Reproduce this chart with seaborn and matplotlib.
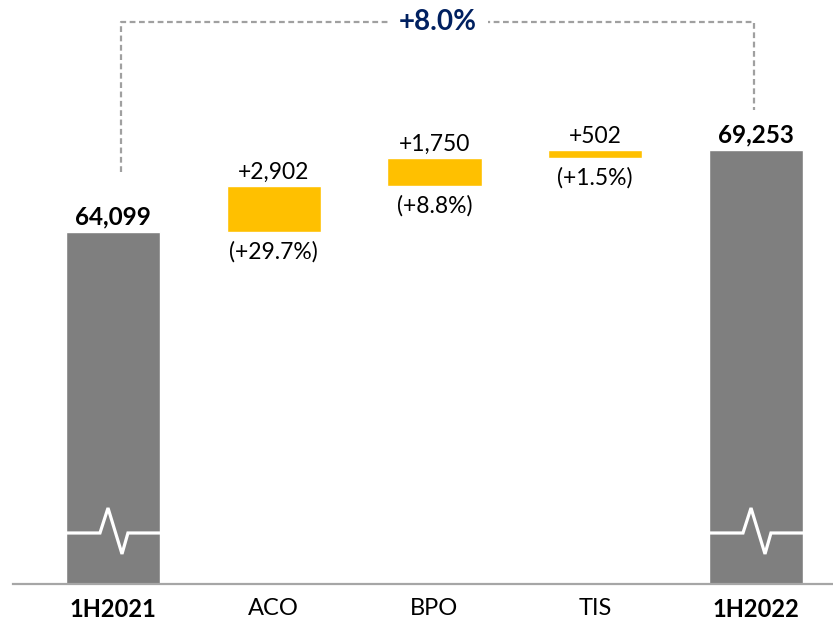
import numpy as np
import pandas as pd
import matplotlib
matplotlib.use("Agg")
import matplotlib.pyplot as plt
import seaborn as sns

# data
categories = ['1H2021', 'ACO', 'BPO', 'TIS', '1H2022']
totals = {'1H2021': 64099, '1H2022': 69253}
steps = ['ACO', 'BPO', 'TIS']
deltas = [2902, 1750, 502]
delta_pct = ['(+29.7%)', '(+8.8%)', '(+1.5%)']
growth_label = '+8.0%'

GRAY = '#7f7f7f'
GOLD = '#ffc000'
NAVY = '#002060'

sns.set_theme(style='white')
plt.rcParams['font.family'] = ['Lato', 'DejaVu Sans']

starts = np.cumsum([totals['1H2021']] + deltas[:-1])
tot_df = pd.DataFrame({'cat': list(totals.keys()), 'val': list(totals.values())})
step_df = pd.DataFrame({'cat': steps, 'val': deltas})

fig = plt.figure(figsize=(8.33, 6.21), dpi=100)
ax = fig.add_axes([13 / 833, 37 / 621, 820 / 833, 584 / 621])

sns.barplot(data=tot_df, x='cat', y='val', order=categories, color=GRAY,
            saturation=1, width=0.585, ax=ax)
sns.barplot(data=step_df, x='cat', y='val', order=categories, color=GOLD,
            saturation=1, width=0.585, bottom=starts, ax=ax)

ax.set_xlim(-0.622, 4.479)
ax.set_ylim(41960, 78690)
ax.set_xlabel('')
ax.set_ylabel('')
ax.set_yticks([])
for s in ['top', 'left', 'right']:
    ax.spines[s].set_visible(False)
ax.spines['bottom'].set_color('#a6a6a6')
ax.spines['bottom'].set_linewidth(1.6)
ax.spines['bottom'].set_zorder(5)
ax.tick_params(axis='x', length=0, pad=10, labelsize=17, colors='black')
for lbl in ax.get_xticklabels():
    if lbl.get_text() in totals:
        lbl.set_fontweight('bold')

# value labels
for i, c in enumerate(categories):
    if c in totals:
        ax.text(i, totals[c] + 250, f'{totals[c]:,}', ha='center', va='bottom',
                fontsize=17.5, fontweight='bold', color='black')
for j, c in enumerate(steps):
    i = categories.index(c)
    ax.text(i, starts[j] + deltas[j] + 200, f'+{deltas[j]:,}', ha='center',
            va='bottom', fontsize=16.5, color='black')
    ax.text(i, starts[j] - 550, delta_pct[j], ha='center', va='top',
            fontsize=16.5, color='black')

# axis-break marks on the total bars
hw = 0.585 / 2
for c in totals:
    i = categories.index(c)
    xs = [i - hw, i - 0.081, i - 0.031, i + 0.056, i + 0.093, i + hw]
    ys = [45168, 45168, 46740, 43850, 45168, 45168]
    ax.plot(xs, ys, color='white', lw=2.3, solid_joinstyle='miter', zorder=4)

# growth bracket
x0, x1 = 0.05, 3.99
ytop = 77306
ax.plot([x0, x0, x1, x1], [totals['1H2021'] + 3774, ytop, ytop, totals['1H2022'] + 2519],
        color='#a0a0a0', lw=1.6, ls=(0, (2.6, 1.6)), zorder=3)
ax.text((x0 + x1) / 2, ytop, growth_label, ha='center', va='center', fontsize=20,
        fontweight='bold', color=NAVY, zorder=4,
        bbox=dict(facecolor='white', edgecolor='none', pad=8))

fig.savefig('out.png', dpi=100)
